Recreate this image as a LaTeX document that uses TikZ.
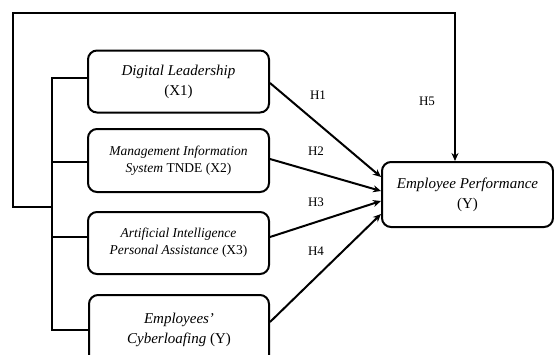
\documentclass[tikz,border=0pt]{standalone}
\usepackage{fontspec}
\setmainfont{Liberation Serif}
\usetikzlibrary{arrows.meta}
\begin{document}
\begin{tikzpicture}[x=1pt,y=-1pt,
  line width=2pt,
  varbox/.style={draw, rounded corners=9pt, align=center, inner sep=0pt,
    font=\fontsize{15}{20}\selectfont},
  smalltext/.style={font=\fontsize{13.5}{16.8}\selectfont},
  arr/.style={-{Stealth[length=8pt,width=7pt]}},
  hlabel/.style={font=\fontsize{13}{15}\selectfont}]
\useasboundingbox (0,0) rectangle (554,354);

% variable boxes
\node[varbox, minimum width=181pt, minimum height=62pt] (dl) at (178.5,81.5)
  {\textit{Digital Leadership}\\(X1)};
\node[varbox, smalltext, minimum width=181pt, minimum height=63pt] (mis) at (178.5,160.5)
  {\textit{Management Information}\\\textit{System} TNDE (X2)};
\node[varbox, smalltext, minimum width=181pt, minimum height=62pt] (ai) at (178.5,243)
  {\textit{Artificial Intelligence}\\\textit{Personal Assistance} (X3)};
\node[varbox, minimum width=180pt, minimum height=69pt] (cl) at (179,329.5)
  {\textit{Employees'}\\\textit{Cyberloafing} (Y)};
\node[varbox, minimum width=171pt, minimum height=65pt] (ep) at (467.5,194.5)
  {\textit{Employee Performance}\\(Y)};

% bus joining the four boxes on the left
\coordinate (bt) at (52,78);
\coordinate (bb) at (52,330);
\draw (dl.west |- bt) -- (bt) -- (bb) -- (cl.west |- bb);
\draw (mis.west |- 0,162) -- (bt |- 0,162);
\draw (ai.west |- 0,237) -- (bt |- 0,237);

% outer loop to the dependent variable
\coordinate (lp) at (13,13);
\coordinate (rp) at (455,13);
\draw[arr] (bt |- 0,207) -- (lp |- 0,207) -- (lp) -- (rp) -- (rp |- ep.north);

% direct paths
\draw[arr] (dl.east |- 0,83) -- (ep.west |- 0,177);
\draw[arr] (mis.east |- 0,159) -- (ep.west |- 0,191);
\draw[arr] (ai.east |- 0,237) -- (ep.west |- 0,201);
\draw[arr] (cl.east |- 0,322) -- (ep.west |- 0,214);

% hypothesis labels
\node[hlabel] (h1) at (318,95) {H1};
\node[hlabel] (h2) at (316,151) {H2};
\node[hlabel] (h3) at (316,202) {H3};
\node[hlabel] (h4) at (316,251) {H4};
\node[hlabel] (h5) at (427,101) {H5};
\end{tikzpicture}
\end{document}
